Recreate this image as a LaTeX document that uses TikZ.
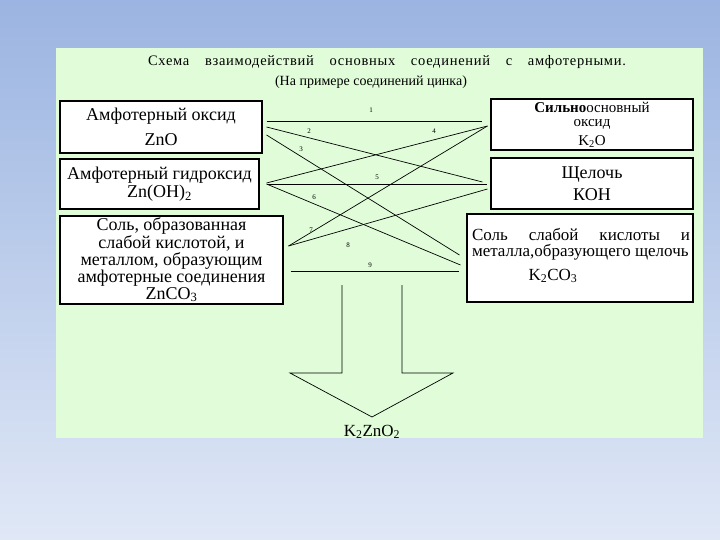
\documentclass[tikz,border=0pt]{standalone}
\usepackage{fontspec}
\setmainfont{Liberation Serif}
\newfontfamily\titlefont[LetterSpace=5]{Liberation Serif}
\usetikzlibrary{positioning}
\definecolor{slidetop}{RGB}{155,180,225}
\definecolor{slidebot}{RGB}{224,232,246}
\definecolor{panel}{RGB}{224,252,216}

\begin{document}
\begin{tikzpicture}[
  x=1pt, y=-1pt,
  font=\fontsize{18}{15}\selectfont,
  box/.style={draw, line width=1.1pt, fill=white, inner sep=0pt, align=center},
  link/.style={line width=0.7pt},
  num/.style={font=\fontsize{7}{8}\selectfont, inner sep=0pt}
]

% background and panel
\shade[top color=slidetop, bottom color=slidebot] (0,0) rectangle (720,540);
\fill[panel] (56,48) rectangle (703,438);

\node[font=\titlefont\fontsize{14.5}{16}\selectfont] (title) at (387,62) {\makebox[478pt][s]{Схема взаимодействий основных соединений с амфотерными.}};
\node[font=\fontsize{14}{16}\selectfont] (subtitle) at (371,82) {(На примере соединений цинка)};

% left column
\node[box, minimum width=202pt, minimum height=52pt] (ox) at (161,127) {Амфотерный оксид\\[8pt]ZnO};
\node[box, minimum width=199pt, minimum height=50pt] (hyd) at (159.5,184) {Амфотерный гидроксид\\[1pt]Zn(OH)\textsubscript{2}};
\node[box, minimum width=223pt, minimum height=88pt] (salt) at (171.5,260) {Соль, образованная\\слабой кислотой, и\\металлом, образующим\\амфотерные соединения\\ZnCO\textsubscript{3}};

% right column
\node[box, minimum width=202pt, minimum height=51pt, font=\fontsize{15}{14.5}\selectfont] (kox) at (592,124.5) {\textbf{Сильно}основный\\оксид\\[4pt]K\textsubscript{2}O};
\node[box, minimum width=202pt, minimum height=51pt] (koh) at (592,183.5) {Щелочь\\[5pt]КОН};
\node[box, minimum width=226pt, minimum height=88pt] (ksalt) at (580,258) {};
\node[font=\fontsize{17}{16}\selectfont, align=left, inner sep=0pt] (ksalttext) at (581,244) {\makebox[218pt][s]{Соль слабой кислоты и}\\металла,образующего щелочь};
\node[font=\fontsize{17}{16}\selectfont, inner sep=0pt] (ksaltf) at (553,276) {K\textsubscript{2}CO\textsubscript{3}};

% reactions
\draw[link] ([xshift=4pt,yshift=6pt]ox.east) -- ([xshift=-8pt,yshift=3.5pt]kox.west);
\draw[link] ([xshift=4pt]ox.east) -- ([xshift=-8pt,yshift=1.5pt]koh.west);
\draw[link] ([xshift=4pt,yshift=-8pt]ox.east) -- ([xshift=-7pt,yshift=3pt]ksalt.west);
\draw[link] ([xshift=-3pt,yshift=-1.5pt]kox.west) -- ([xshift=7pt,yshift=1pt]hyd.east);
\draw[link] ([xshift=7pt]hyd.east) -- ([xshift=-3pt,yshift=-0.5pt]koh.west);
\draw[link] ([xshift=7pt]hyd.east) -- ([xshift=-6pt,yshift=-7pt]ksalt.west);
\draw[link] ([xshift=5pt,yshift=14pt]salt.east) -- ([xshift=-3pt,yshift=-1.5pt]kox.west);
\draw[link] ([xshift=5pt,yshift=14pt]salt.east) -- ([xshift=-3pt,yshift=-5.5pt]koh.west);
\draw[link] ([xshift=7pt,yshift=-11pt]salt.east) -- ([xshift=-7pt,yshift=-13pt]ksalt.west);

\node[num] (n1) at (371,110) {1};
\node[num] (n2) at (309,131) {2};
\node[num] (n3) at (301,149) {3};
\node[num] (n4) at (434,131) {4};
\node[num] (n5) at (377,177) {5};
\node[num] (n6) at (314,197) {6};
\node[num] (n7) at (311,230) {7};
\node[num] (n8) at (348,245) {8};
\node[num] (n9) at (370,265) {9};

% product arrow
\draw[link] (342,285) -- (342,373) -- (290,373) -- (372,417) -- (453,373) -- (402,373) -- (402,285);
\node[font=\fontsize{17}{14}\selectfont] (prod) at (372,432) {K\textsubscript{2}ZnO\textsubscript{2}};

\end{tikzpicture}
\end{document}
